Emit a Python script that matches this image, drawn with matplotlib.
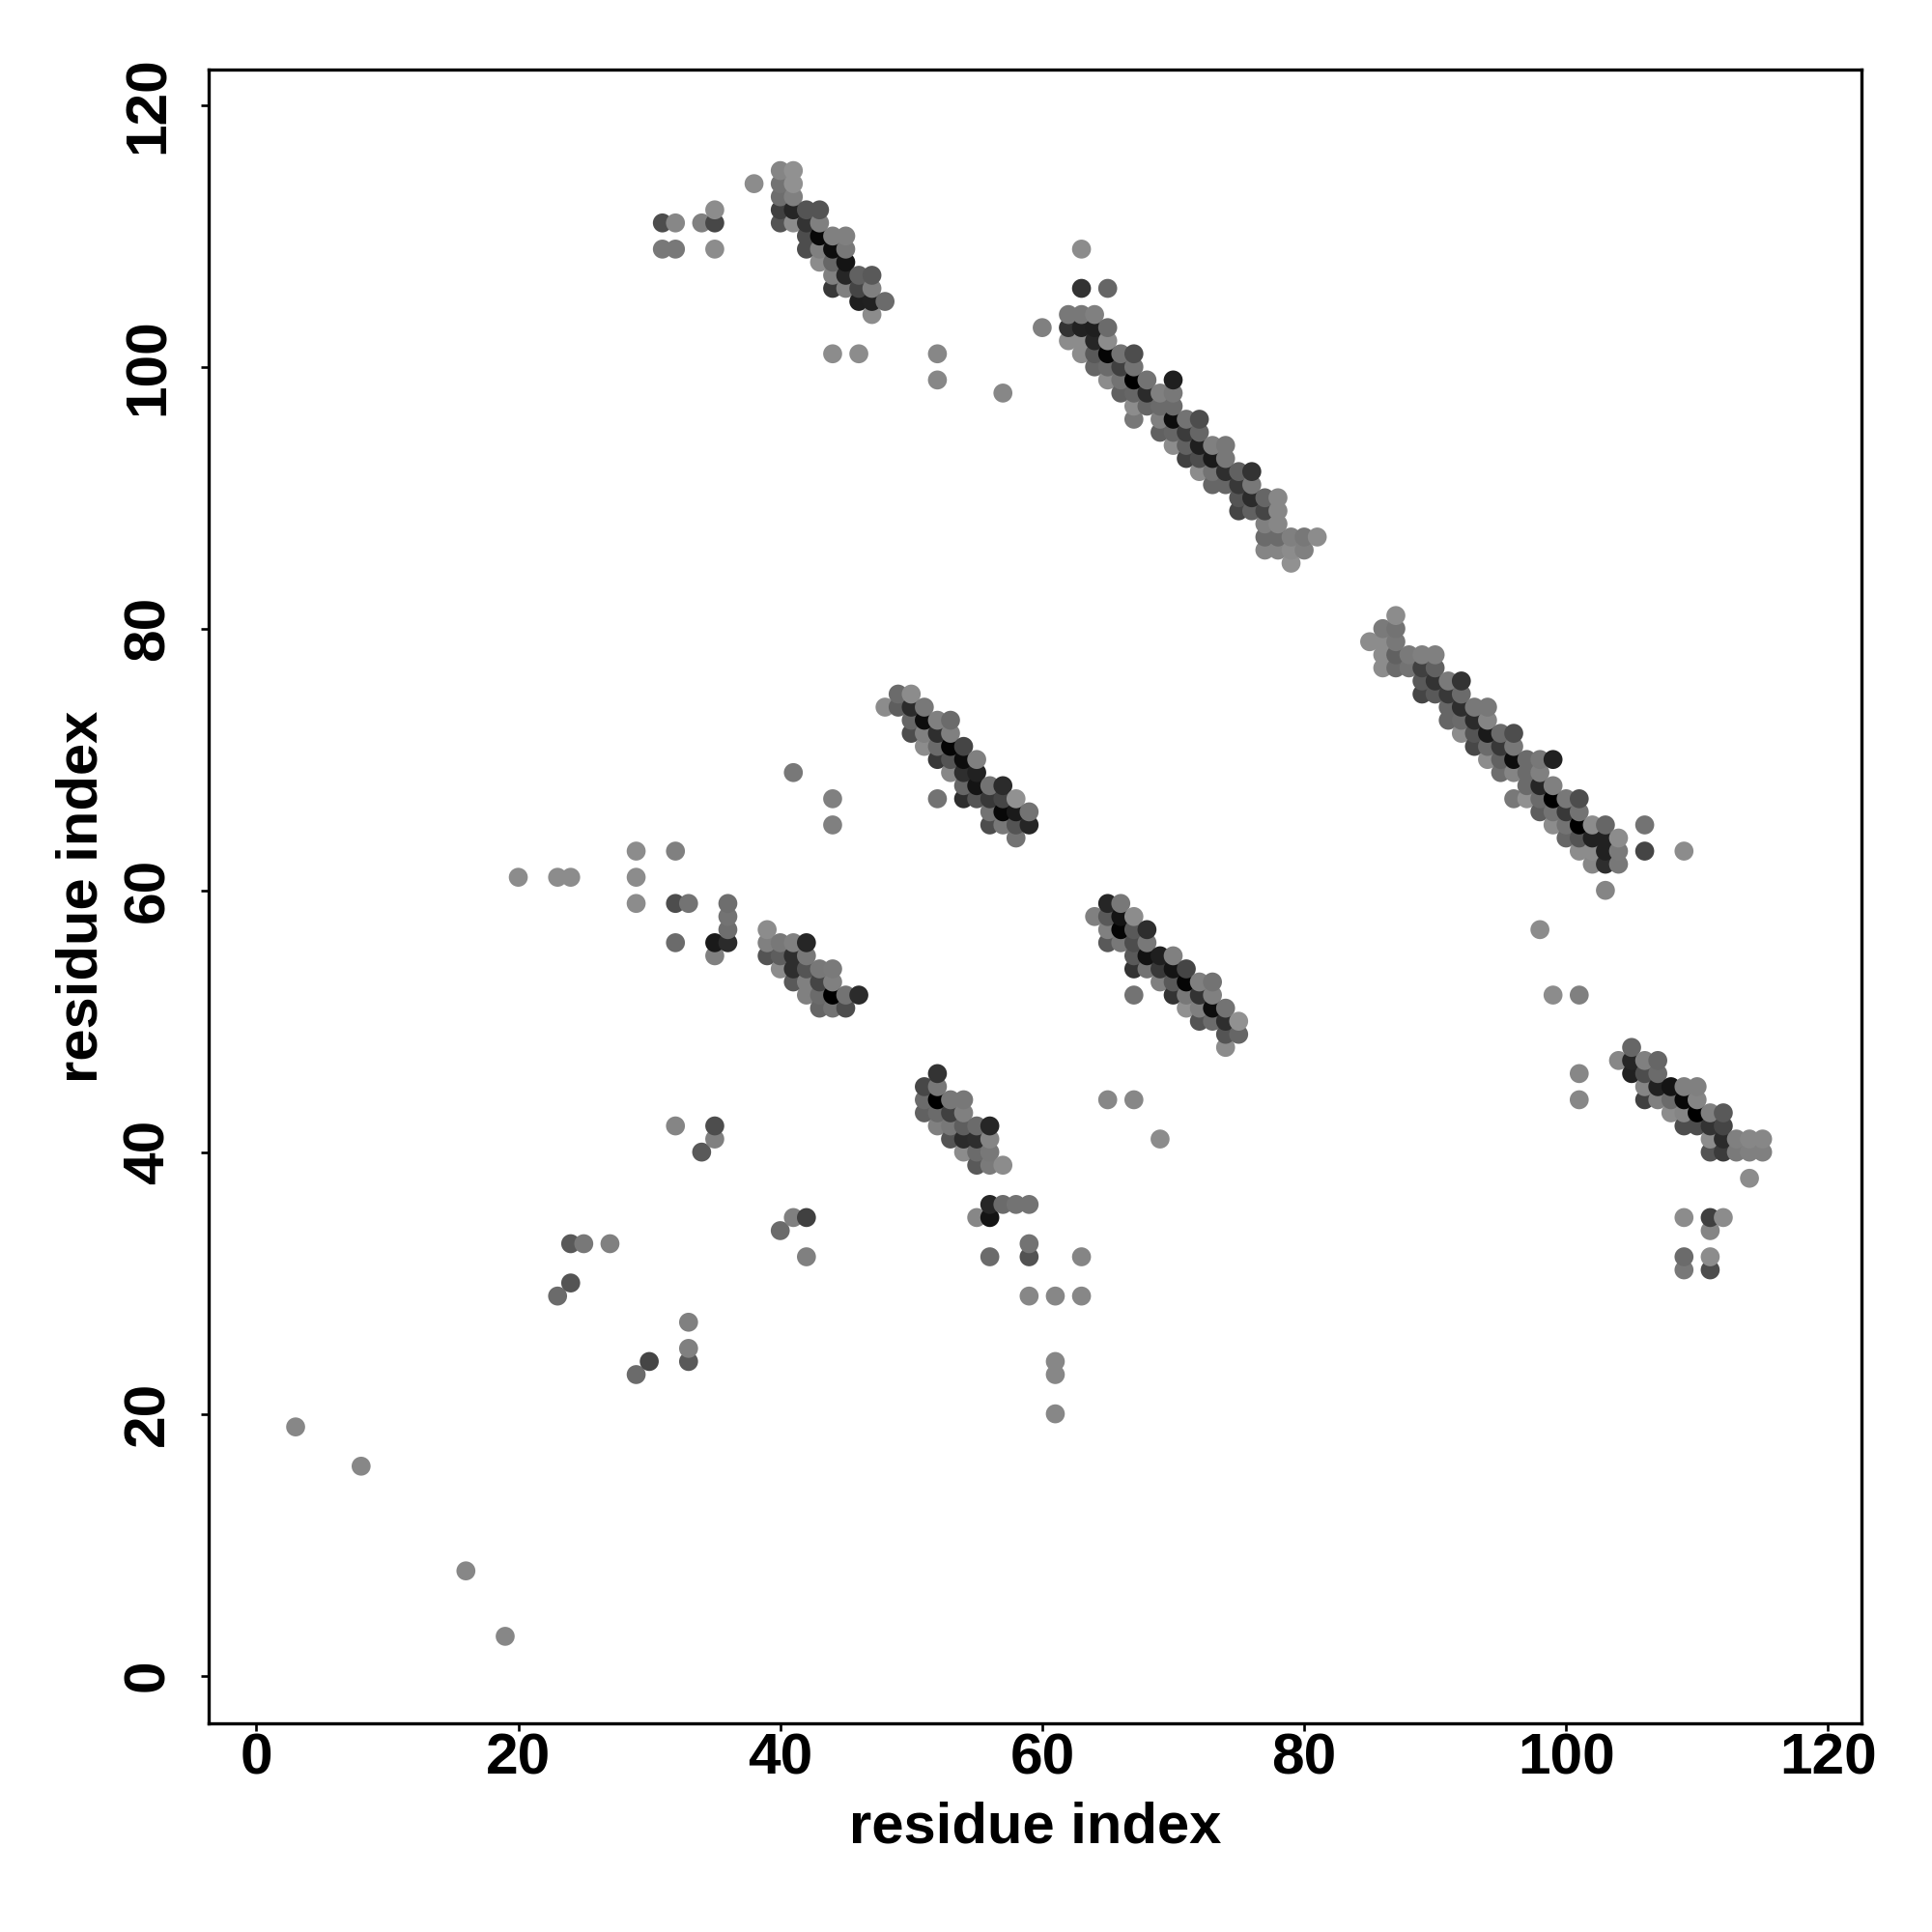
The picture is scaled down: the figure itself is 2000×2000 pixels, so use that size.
import matplotlib
matplotlib.use("Agg")
import matplotlib.pyplot as plt

plt.rcParams['font.family'] = ['Liberation Sans', 'DejaVu Sans']

axis_label = "residue index"
tick_values = [0, 20, 40, 60, 80, 100, 120]

# isolated contacts
sparse_x = [3, 8, 16, 19, 20, 23, 24, 29, 29, 29, 32, 32, 33, 32, 41, 44, 44, 32, 35, 35, 34, 40, 41, 42, 42,
            23, 24, 24, 25, 27, 29, 30, 33, 33, 33, 52, 52, 57, 60, 63, 63, 65, 44, 46,
            98, 99, 101, 101, 101, 106, 106, 109, 65, 67, 69,
            59, 61, 63, 63, 61, 61, 61, 109, 109, 109, 111, 111, 111, 111, 112]
sparse_y = [19, 16, 8, 3, 61, 61, 61, 63, 61, 59, 63, 59, 59, 56, 69, 67, 65, 42, 42, 41, 40, 34, 35, 35, 32,
            29, 33, 30, 33, 33, 23, 24, 27, 25, 24, 101, 99, 98, 103, 109, 106, 106, 101, 101,
            57, 52, 52, 46, 44, 65, 63, 63, 44, 44, 41,
            29, 29, 29, 32, 24, 23, 20, 35, 32, 31, 35, 34, 32, 31, 35]
sparse_g = [.53, .53, .53, .53, .55, .55, .55, .55, .55, .55, .5, .3, .45, .42, .47, .5, .5, .52, .3, .5, .35, .42, .5, .25, .5,
            .42, .35, .33, .47, .5, .42, .27, .5, .5, .35, .53, .53, .53, .5, .55, .2, .4, .55, .55,
            .55, .55, .5, .53, .53, .45, .27, .55, .53, .53, .55,
            .53, .53, .53, .52, .53, .53, .53, .55, .42, .47, .25, .52, .55, .3, .55]

# band 31-48 / 104-115
b1_x = [31, 32, 34, 35, 35, 31, 32, 35, 38,
        40, 40, 40, 40, 40, 41, 41, 41, 41, 41, 42, 42, 42, 42,
        43, 43, 43, 43, 43, 44, 44, 44, 44, 44, 45, 45, 45, 45, 45,
        46, 46, 46, 47, 47, 47, 47, 48]
b1_y = [111, 111, 111, 111, 112, 109, 109, 109, 114,
        115, 114, 113, 112, 111, 115, 114, 113, 112, 111, 112, 111, 110, 109,
        112, 111, 110, 109, 108, 110, 109, 108, 107, 106, 110, 109, 108, 107, 106,
        107, 106, 105, 107, 106, 105, 104, 105]
b1_g = [.3, .53, .5, .28, .55, .47, .47, .55, .55,
        .52, .45, .43, .25, .33, .57, .57, .5, .15, .55, .33, .2, .3, .3,
        .33, .5, .03, .5, .55, .5, .05, .4, .5, .22, .5, .47, .08, .15, .5,
        .38, .27, .12, .35, .5, .13, .55, .42]

# band 62-81 / 85-104
b2_x = [62, 62, 62, 63, 63, 63, 63, 64, 64, 64, 64, 64, 65, 65, 65, 65, 65,
        66, 66, 66, 66, 67, 67, 67, 67, 67, 67, 68, 68, 68, 69, 69, 69, 69,
        70, 70, 70, 70, 70, 70, 71, 71, 71, 71, 72, 72, 72, 72, 72,
        73, 73, 73, 73, 74, 74, 74, 74, 75, 75, 75, 75, 76, 76, 76, 76,
        77, 77, 77, 77, 77, 78, 78, 78, 78, 78, 79, 79, 79, 80, 80, 81]
b2_y = [104, 103, 102, 104, 103, 102, 101, 104, 103, 102, 101, 100, 103, 102, 101, 100, 99,
        101, 100, 99, 98, 101, 100, 99, 98, 97, 96, 99, 98, 97, 98, 97, 96, 95,
        99, 98, 97, 96, 95, 94, 96, 95, 94, 93, 96, 95, 94, 93, 92,
        94, 93, 92, 91, 94, 93, 92, 91, 92, 91, 90, 89, 92, 91, 90, 89,
        90, 89, 88, 87, 86, 90, 89, 88, 87, 86, 87, 86, 85, 87, 86, 87]
b2_g = [.47, .2, .55, .47, .13, .55, .55, .5, .12, .15, .35, .4, .42, .55, .02, .42, .55,
        .45, .25, .45, .38, .3, .45, 0, .4, .55, .47, .45, .17, .4, .5, .42, .5, .38,
        .12, .47, .42, .05, .4, .55, .45, .23, .38, .25, .3, .4, .12, .3, .55,
        .5, .1, .45, .4, .47, .47, .18, .4, .38, .22, .33, .27, .2, .47, .17, .38,
        .4, .27, .5, .42, .52, .53, .53, .53, .42, .52, .5, .55, .57, .47, .5, .55]

# band 48-59 / 64-75
b3_x = [48, 49, 49, 50, 50, 50, 50, 51, 51, 51, 51, 52, 52, 52, 52, 52,
        53, 53, 53, 53, 53, 54, 54, 54, 54, 54, 55, 55, 55, 55,
        56, 56, 56, 56, 57, 57, 57, 57, 58, 58, 58, 58, 59, 59]
b3_y = [74, 75, 74, 75, 74, 73, 72, 74, 73, 72, 71, 73, 72, 71, 70, 67,
        73, 72, 71, 70, 69, 71, 70, 69, 68, 67, 70, 69, 68, 67,
        68, 67, 66, 65, 68, 67, 66, 65, 67, 66, 65, 64, 66, 65]
b3_g = [.55, .42, .37, .55, .17, .4, .3, .47, .05, .5, .55, .5, .18, .42, .22, .45,
        .42, .5, .02, .33, .53, .27, .05, .18, .4, .18, .5, .13, .08, .33,
        .45, .22, .45, .3, .17, .27, .03, .47, .57, .1, .33, .45, .45, .15]

# band 85-106 / 60-81
b4_x = [85, 86, 86, 86, 86, 87, 87, 87, 87, 87, 88, 88, 89, 89, 89, 89, 90, 90, 90, 90,
        91, 91, 91, 91, 92, 92, 92, 92, 92, 93, 93, 93, 93, 94, 94, 94, 94, 94,
        95, 95, 95, 95, 96, 96, 96, 96, 96, 97, 97, 97, 97, 98, 98, 98, 98, 98,
        99, 99, 99, 99, 99, 100, 100, 100, 100, 101, 101, 101, 101, 101,
        102, 102, 102, 102, 103, 103, 103, 103, 103, 104, 104, 104]
b4_y = [79, 80, 79, 78, 77, 81, 80, 79, 78, 77, 78, 77, 78, 77, 76, 75, 78, 77, 76, 75,
        76, 75, 74, 73, 76, 75, 74, 73, 72, 74, 73, 72, 71, 74, 73, 72, 71, 70,
        72, 71, 70, 69, 72, 71, 70, 69, 67, 70, 69, 68, 67, 70, 69, 68, 67, 66,
        70, 68, 67, 66, 65, 67, 66, 65, 64, 67, 66, 65, 64, 63,
        65, 64, 63, 62, 65, 64, 63, 62, 60, 64, 63, 62]
b4_g = [.55, .48, .55, .55, .55, .55, .45, .47, .38, .42, .48, .45, .5, .25, .35, .27, .5, .38, .2, .35,
        .48, .22, .4, .4, .2, .42, .18, .42, .55, .47, .17, .33, .28, .47, .52, .1, .42, .55,
        .42, .22, .38, .43, .3, .47, .05, .52, .47, .42, .42, .42, .57, .47, .5, .15, .42, .37,
        .13, .5, 0, .45, .55, .47, .22, .45, .4, .3, .45, 0, .33, .55,
        .55, .13, .55, .53, .4, .13, .13, .18, .52, .55, .48, .47]

# band 35-46 / 51-59
b5_x = [35, 35, 36, 36, 36, 36, 39, 39, 39, 40, 40, 40, 41, 41, 41, 41,
        42, 42, 42, 42, 42, 43, 43, 43, 43, 44, 44, 44, 44, 45, 45, 46]
b5_y = [56, 55, 59, 58, 57, 56, 57, 56, 55, 56, 55, 54, 56, 55, 54, 53,
        56, 55, 54, 53, 52, 54, 53, 52, 51, 54, 53, 52, 51, 52, 51, 52]
b5_g = [.1, .5, .43, .45, .43, .17, .55, .5, .33, .47, .37, .55, .5, .18, .18, .35,
        .15, .47, .33, .5, .5, .47, .27, .42, .4, .48, .5, 0, .45, .45, .3, .17]

# band 64-75 / 48-59
b6_x = [64, 65, 65, 65, 65, 66, 66, 66, 66, 67, 67, 67, 67, 67, 67, 68, 68, 68, 68,
        69, 69, 69, 70, 70, 70, 70, 71, 71, 71, 71, 72, 72, 72, 72, 73, 73, 73, 73,
        74, 74, 74, 74, 75, 75]
b6_y = [58, 59, 58, 57, 56, 59, 58, 57, 56, 58, 57, 56, 55, 54, 52, 57, 56, 55, 54,
        55, 54, 53, 55, 54, 53, 52, 54, 53, 52, 51, 53, 52, 51, 50, 53, 52, 51, 50,
        51, 50, 49, 48, 50, 49]
b6_g = [.5, .15, .35, .5, .35, .47, .08, .02, .47, .55, .35, .3, .35, .2, .45, .18, .47, .07, .45,
        .12, .22, .5, .5, .08, .35, .2, .27, .02, .47, .57, .5, .2, .5, .33, .45, .5, .05, .42,
        .45, .18, .33, .55, .57, .4]

# band 51-59 / 32-46
b7_x = [51, 51, 51, 52, 52, 52, 52, 52, 53, 53, 53, 53, 54, 54, 54, 54, 54,
        55, 55, 55, 55, 55, 56, 56, 56, 56, 56, 56, 56, 57, 57, 58, 59, 59, 59]
b7_y = [45, 44, 43, 46, 45, 44, 43, 42, 44, 43, 42, 41, 44, 43, 42, 41, 40,
        42, 41, 40, 39, 35, 42, 41, 40, 39, 36, 35, 32, 39, 36, 36, 36, 33, 32]
b7_g = [.28, .42, .38, .2, .47, 0, .42, .5, .47, .25, .47, .33, .47, .5, .37, .17, .55,
        .42, .18, .42, .35, .53, .15, .52, .47, .48, .15, .08, .42, .55, .42, .45, .45, .45, .32]

# band 104-115 / 38-48
b8_x = [104, 105, 105, 105, 106, 106, 106, 106, 107, 107, 107, 107, 108, 108, 108,
        109, 109, 109, 109, 110, 110, 110, 110, 111, 111, 111, 111, 112, 112, 112, 112,
        113, 113, 114, 114, 114, 115, 115]
b8_y = [47, 48, 47, 46, 47, 46, 45, 44, 47, 46, 45, 44, 45, 44, 43,
        45, 44, 43, 42, 45, 44, 43, 42, 43, 42, 41, 40, 43, 42, 41, 40,
        41, 40, 41, 40, 38, 41, 40]
b8_g = [.53, .4, .15, .13, .5, .3, .52, .25, .4, .42, .13, .5, .08, .42, .55,
        .5, .03, .52, .3, .5, .52, 0, .3, .5, .2, .55, .33, .35, .27, .17, .23,
        .5, .48, .53, .5, .55, .53, .5]

series_x = [sparse_x, b1_x, b2_x, b3_x, b4_x, b5_x, b6_x, b7_x, b8_x]
series_y = [sparse_y, b1_y, b2_y, b3_y, b4_y, b5_y, b6_y, b7_y, b8_y]
series_g = [sparse_g, b1_g, b2_g, b3_g, b4_g, b5_g, b6_g, b7_g, b8_g]

fig = plt.figure(figsize=(20, 20), dpi=100)
ax = fig.add_axes([216 / 2000, 1 - 1784 / 2000, (1927 - 216) / 2000, (1784 - 72) / 2000])

for xs, ys, gs in zip(series_x, series_y, series_g):
    pts = sorted(zip(xs, ys, gs), key=lambda p: (p[0], p[1]))
    ax.scatter([p[0] for p in pts], [p[1] for p in pts],
               c=[str(p[2]) for p in pts], s=200, linewidths=0, zorder=3)

ax.set_xlim(-3.64, 122.55)
ax.set_ylim(-3.65, 122.72)
ax.set_xticks(tick_values)
ax.set_yticks(tick_values)
ax.tick_params(axis='both', length=6, width=1.9, labelsize=43.5)
ax.tick_params(axis='x', pad=0.5)
ax.tick_params(axis='y', pad=19)
for lab in ax.get_xticklabels():
    lab.set_fontweight('bold')
for lab in ax.get_yticklabels():
    lab.set_fontweight('bold')
    lab.set_rotation(90)
    lab.set_va('center')
for side in ax.spines.values():
    side.set_linewidth(2.4)

ax.set_xlabel(axis_label, fontsize=43, fontweight='bold', labelpad=12)
ax.set_ylabel(axis_label, fontsize=43, fontweight='bold', labelpad=10)

fig.savefig("out.png", dpi=100)
